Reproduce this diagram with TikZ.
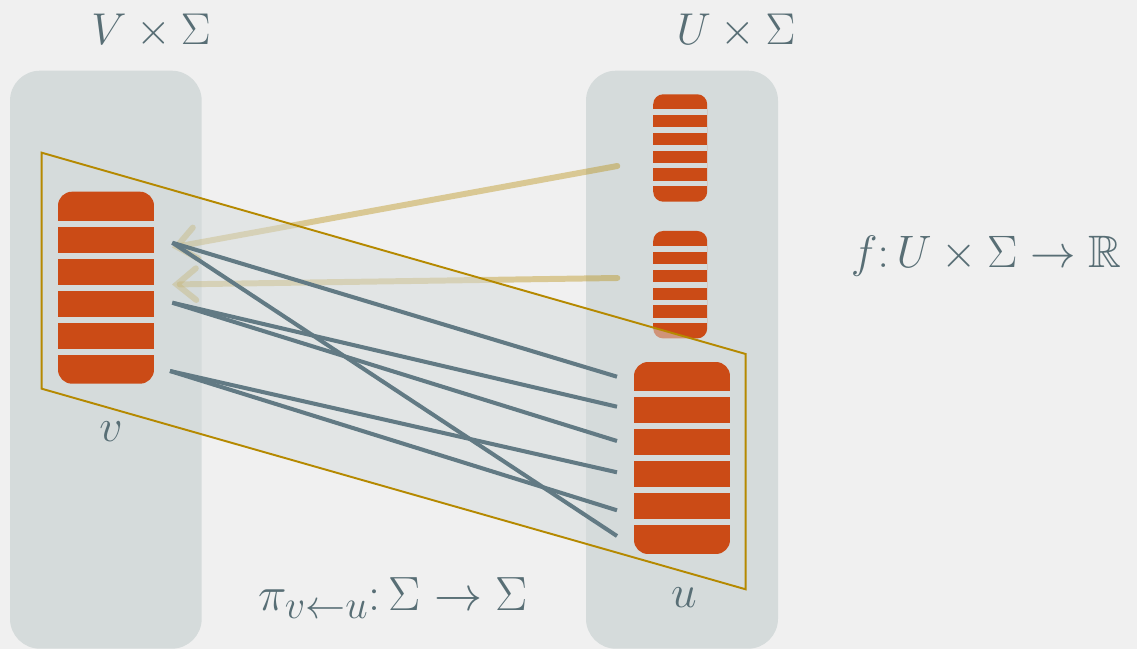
\documentclass[tikz,border=0pt]{standalone}
\usepackage{amssymb}
\usepackage{graphicx}
\usetikzlibrary{arrows.meta}
\definecolor{bgc}{HTML}{F0F0F0}
\definecolor{colc}{HTML}{D5DBDB}
\definecolor{orng}{HTML}{CB4B16}
\definecolor{txtc}{HTML}{586E75}
\definecolor{linec}{HTML}{627A84}
\definecolor{gold}{HTML}{B58900}
\tikzset{
  column/.style={fill=colc, draw=none, rounded corners=0.6cm},
  bigstack/.style={fill=orng, draw=none, rounded corners=0.28cm, minimum width=1.92cm, minimum height=3.84cm, inner sep=0pt},
  smallstack/.style={fill=orng, draw=none, rounded corners=0.2cm, minimum width=1.08cm, minimum height=2.15cm, inner sep=0pt},
  gap/.style={draw=colc, line width=3.4pt},
  smallgap/.style={draw=colc, line width=3.2pt},
  link/.style={draw=linec, line width=2.3pt},
  tanarrow/.style={draw=gold, draw opacity=0.38, line width=3.4pt, line cap=round, -{Straight Barb[length=11pt,width=18pt,line cap=round]}},
  frame/.style={draw=gold, line width=1.1pt, fill=colc, fill opacity=0.5},
  lbl/.style={text=txtc, font=\fontsize{24.88}{30}\selectfont, inner sep=0pt}
}
\begin{document}
\begin{tikzpicture}[x=0.02cm, y=-0.02cm]
\fill[bgc] (0,0) rectangle (1137,649);
\useasboundingbox (0,0) rectangle (1137,649);
% columns
\path[column] (10,70.7) rectangle (201.7,648.7);
\path[column] (586,70.7) rectangle (778,648.7);
% small stacks (beneath the plane)
\node[smallstack] (s1) at (680.2,148) {};
\foreach \k in {1,...,5} \draw[smallgap] (653.2,94+17.9*\k) -- (707.2,94+17.9*\k);
\node[smallstack] (s2) at (680.2,284.7) {};
\foreach \k in {1,...,5} \draw[smallgap] (653.2,231+17.9*\k) -- (707.2,231+17.9*\k);
% tan arrows
\coordinate (a1) at (617.3,166);
\coordinate (b1) at (172,247.5);
\coordinate (a2) at (617.3,278);
\coordinate (b2) at (172,284.5);
\draw[tanarrow] (a1) -- (b1);
\draw[tanarrow] (a2) -- (b2);
% plane
\draw[frame] (41.7,152.7) coordinate (q1) -- (745.7,354) coordinate (q2) -- (745.7,589.3) coordinate (q3) -- (41.7,388.7) coordinate (q4) -- cycle;
% v and u stacks
\node[bigstack] (v) at (106,287.7) {};
\foreach \k in {1,...,5} \draw[gap] (58,191.7+32*\k) -- (154,191.7+32*\k);
\node[bigstack] (u) at (682,458) {};
\foreach \k in {1,...,5} \draw[gap] (634,362+32*\k) -- (730,362+32*\k);
% links
\coordinate (l1) at (172.3,242.7);
\coordinate (l2) at (172.3,302.7);
\coordinate (l3) at (170,371);
\coordinate (r1) at (617,376.7);
\coordinate (r2) at (617,406.7);
\coordinate (r3) at (617,441);
\coordinate (r4) at (617,472.3);
\coordinate (r5) at (617,510.3);
\coordinate (r6) at (617,536);
\draw[link] (l1) -- (r1);
\draw[link] (l1) -- (r6);
\draw[link] (l2) -- (r2);
\draw[link] (l2) -- (r3);
\draw[link] (l3) -- (r4);
\draw[link] (l3) -- (r5);
% labels
\node[lbl] (tv) at (151,31) {\scalebox{1.02}{$V\times\Sigma$}};
\node[lbl] (tu) at (736,31) {\scalebox{1.02}{$U\times\Sigma$}};
\node[lbl] (lv) at (111,432) {\scalebox{1.05}{$v$}};
\node[lbl] (lu) at (684,598) {\scalebox{1.05}{$u$}};
\node[lbl] (pi) at (393,598) {\scalebox{1.1}{$\pi_{v\leftarrow u}\colon\Sigma\to\Sigma$}};
\node[lbl] (ff) at (986,256) {\scalebox{1.04}{$f\colon U\times\Sigma\to\mathbb{R}$}};
\end{tikzpicture}
\end{document}
